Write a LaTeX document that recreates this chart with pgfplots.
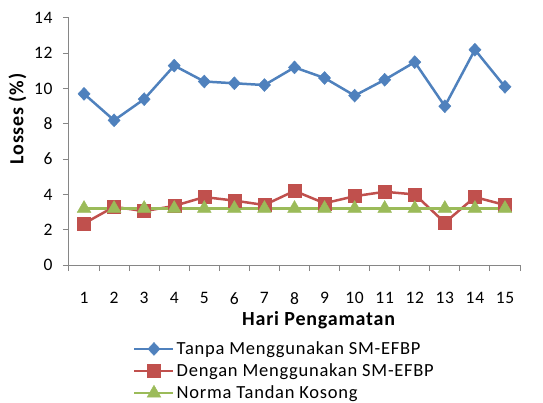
\documentclass[border=0pt]{standalone}
\usepackage{pgfplots}
\pgfplotsset{compat=1.18}
\usepackage{fontspec}
\setmainfont{Carlito}[LetterSpace=4]
\definecolor{cblue}{HTML}{4F81BD}
\definecolor{cred}{HTML}{C0504D}
\definecolor{cgreen}{HTML}{9BBB59}
\definecolor{caxis}{HTML}{868686}
\begin{document}
\begin{tikzpicture}
\path[use as bounding box] (-69bp,-138bp) rectangle (474bp,265bp);
\begin{axis}[
  scale only axis,
  width=451bp, height=247bp,
  xmin=0.5, xmax=15.5, ymin=0, ymax=14,
  axis x line*=bottom, axis y line*=left,
  axis line style={caxis, line width=1bp, -},
  xtick={1,...,15},
  major x tick style={draw=none},
  minor xtick={0.5,1.5,...,15.5},
  minor x tick style={caxis, line width=1bp},
  minor tick length=6bp,
  ytick={0,2,...,14},
  major y tick style={caxis, line width=1bp},
  major tick length=6bp,
  tick align=outside,
  /pgf/number format/assume math mode=true,
  tick label style={font=\fontsize{17.5bp}{19bp}\selectfont, black},
  xticklabel style={yshift=-18bp},
  yticklabel style={xshift=-7bp},
  xlabel={\textbf{Hari Pengamatan}},
  xlabel style={font=\fontsize{20bp}{22bp}\selectfont, at={(rel axis cs:0.5,0)}, anchor=base, yshift=-60bp, xshift=24.5bp},
  ylabel={\textbf{Losses (\%)}},
  ylabel style={font=\fontsize{20bp}{22bp}\selectfont, at={(rel axis cs:0,0.5)}, anchor=center, xshift=23bp, yshift=51.5bp},
  legend cell align=left,
  legend style={draw=none, fill=none, at={(0.142,-0.302)}, anchor=north west, inner sep=0pt,
    nodes={inner sep=2bp},
    font=\fontsize{18.5bp}{20bp}\selectfont, row sep=3.8bp},
  legend image code/.code={
    \draw[mark repeat=2,mark phase=2] plot coordinates {(0bp,0bp) (19.5bp,0bp) (39bp,0bp)};},
]
\addplot[cblue, line width=2.5bp, mark=diamond*, mark size=6.5bp, mark options={solid, line width=0.4bp, xscale=1.25}] coordinates {
(1,9.7) (2,8.2) (3,9.4) (4,11.3) (5,10.4) (6,10.3) (7,10.2) (8,11.2)
(9,10.6) (10,9.6) (11,10.5) (12,11.5) (13,9.0) (14,12.2) (15,10.1)};
\addlegendentry{Tanpa Menggunakan SM-EFBP}
\addplot[cred, line width=2.5bp, mark=square*, mark size=6.5bp, mark options={solid, line width=0.4bp}] coordinates {
(1,2.35) (2,3.3) (3,3.05) (4,3.35) (5,3.85) (6,3.65) (7,3.4) (8,4.2)
(9,3.5) (10,3.9) (11,4.15) (12,4.0) (13,2.4) (14,3.85) (15,3.4)};
\addlegendentry{Dengan Menggunakan SM-EFBP}
\addplot[cgreen, line width=2.5bp, mark=triangle*, mark size=8bp, mark options={solid, line width=0.4bp}] coordinates {
(1,3.2) (2,3.2) (3,3.2) (4,3.2) (5,3.2) (6,3.2) (7,3.2) (8,3.2)
(9,3.2) (10,3.2) (11,3.2) (12,3.2) (13,3.2) (14,3.2) (15,3.2)};
\addlegendentry{Norma Tandan Kosong}
\end{axis}
\end{tikzpicture}
\end{document}
